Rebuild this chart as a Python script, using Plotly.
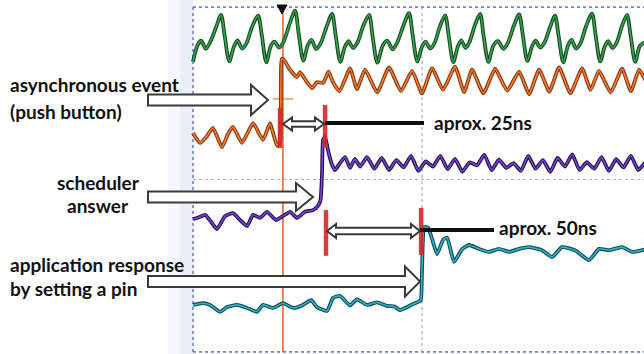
import plotly.graph_objects as go

# ---------------- data (time in ns, amplitude in divisions) ----------------
green_t = [0, 2.5, 4.5, 7, 9.5, 12.5,
           15.3, 17.3, 19.8, 22.3, 24.3, 26.8, 29.3, 32.3,
           35.5, 37.5, 40.0, 42.5, 44.5, 47.0, 49.5, 52.5,
           55.7, 57.7, 60.2, 62.7, 64.7, 67.2, 69.7, 72.7,
           75.9, 77.9, 80.4, 82.9, 84.9, 87.4, 89.9, 92.9,
           96.1, 98.1, 100.6, 103.5, 106.0, 109.0, 111.5, 114.6,
           117.9, 119.9, 122.4, 124.9, 126.9, 129.4, 131.9, 134.6,
           137.6, 139.6, 142.1, 144.6, 146.4, 148.8, 151.0, 153.8,
           156.7, 158.7, 161.2, 164.0, 166.5, 169.5, 172.0, 175.0,
           178.0, 180.0, 182.5, 185.0, 187.0, 189.5, 192.0, 194.8,
           197.6, 199.6, 202.1, 204.6, 206.6, 209.1, 211.6, 214.6,
           217.8, 219.8, 222.3, 224.8, 226.6, 229.0, 231.3, 234.0,
           236.9, 238.9, 241.4, 243.9, 246.5]
green_v = [2.73, 3.12, 3.22, 3.03, 3.20, 3.52,
           3.82, 3.33, 2.74, 3.08, 3.23, 3.04, 3.17, 3.55,
           3.80, 3.36, 2.72, 3.10, 3.20, 3.06, 3.20, 3.58,
           3.92, 3.38, 2.76, 3.12, 3.24, 3.03, 3.16, 3.52,
           3.84, 3.34, 2.73, 3.08, 3.21, 3.05, 3.19, 3.56,
           3.82, 3.30, 2.71, 3.10, 3.22, 3.02, 3.18, 3.54,
           3.86, 3.35, 2.74, 3.07, 3.20, 3.04, 3.17, 3.53,
           3.81, 3.33, 2.72, 3.09, 3.23, 3.05, 3.20, 3.57,
           3.84, 3.31, 2.73, 3.11, 3.21, 3.03, 3.18, 3.55,
           3.83, 3.36, 2.75, 3.08, 3.22, 3.06, 3.19, 3.52,
           3.80, 3.32, 2.72, 3.10, 3.24, 3.04, 3.17, 3.56,
           3.85, 3.34, 2.74, 3.09, 3.21, 3.05, 3.18, 3.54,
           3.82, 3.33, 2.73, 3.10, 3.18]

orange_t = [0, 3.8, 7.5, 10.9, 15.8, 19, 21.8, 26.7, 30, 32.8,
            38.2, 42.0, 45.9, 47.6, 48.4, 49.7, 53.0, 56.8, 58.4, 62.2,
            65.0, 67.7, 71.0, 74.0, 76.4, 80.0, 85.7, 89.5, 93.9, 100.5,
            107.0, 113.5, 119.6, 125.0, 130.5, 136.5, 143.0, 148.0, 152.3, 158.5,
            164.9, 171.5, 178.0, 183.5, 188.9, 194.5, 199.8, 206.0, 212.4, 217.0,
            221.6, 228.0, 234.2, 239.0, 243.5, 247]
orange_v = [1.08, 0.85, 1.00, 1.20, 0.75, 1.05, 1.22, 0.85, 1.10, 1.31,
            0.92, 1.30, 0.78, 0.90, 2.80, 2.77, 2.54, 2.38, 2.49, 2.26,
            2.12, 2.26, 2.24, 2.50, 2.26, 2.05, 2.58, 2.10, 2.55, 2.02,
            2.60, 2.05, 2.52, 2.00, 2.58, 2.08, 2.62, 2.03, 2.55, 2.00,
            2.57, 2.06, 2.50, 1.98, 2.55, 2.04, 2.60, 2.00, 2.58, 2.08,
            2.52, 2.02, 2.57, 2.05, 2.55, 2.30]

purple_t = [0, 3, 6.6, 10, 13.1, 17.5, 21.8, 25.7, 29.5, 32.8,
            36.6, 40.4, 45.3, 49.1, 53.0, 56.8, 61.1, 65.5, 68.2, 69.6,
            70.4, 71.0, 72.1, 73.7, 75.9, 77.5, 80.2, 83.0, 85.7, 88.4,
            91.2, 95, 99, 103, 107, 111, 115, 119, 123, 127,
            131, 135, 139, 143, 147, 151, 155, 159, 163, 167,
            171, 175, 179, 183, 187, 191, 195, 199, 203, 207,
            211, 215, 219, 223, 227, 231, 235, 239, 243, 247]
purple_v = [-0.92, -0.88, -0.82, -0.99, -1.15, -0.85, -0.78, -0.94, -1.08, -0.82,
            -0.89, -0.75, -0.94, -0.85, -0.75, -0.89, -0.75, -0.71, -0.61, -0.48,
            0.10, 0.92, 0.99, 0.68, 0.34, 0.22, 0.38, 0.52, 0.27, 0.48,
            0.30, 0.52, 0.25, 0.50, 0.22, 0.45, 0.28, 0.55, 0.20, 0.42,
            0.30, 0.55, 0.24, 0.48, 0.18, 0.40, 0.33, 0.57, 0.22, 0.46,
            0.27, 0.38, 0.20, 0.55, 0.25, 0.45, 0.18, 0.50, 0.30, 0.58,
            0.22, 0.40, 0.25, 0.52, 0.20, 0.47, 0.28, 0.55, 0.22, 0.40]

teal_t = [0, 5.5, 9.3, 14.7, 18.6, 24.0, 29.5, 34.9, 38.2, 43.7,
          49.1, 54.6, 60.0, 64.5, 67.7, 73.2, 76.4, 80.2, 85.7, 89.5,
          95.0, 100.4, 105.9, 110.0, 113.0, 116.8, 119.6, 122.3, 124.3, 124.9,
          125.4, 126.2, 128.3, 130.5, 133.2, 136.5, 138.7, 142.5, 146.8, 150.7,
          156.1, 161.6, 167.0, 172.5, 178.0, 183.4, 190.5, 196.0, 201.4, 208.5,
          216.2, 221.6, 227.1, 234.2, 239.7, 245.1, 247.0]
teal_v = [-2.91, -2.87, -2.91, -3.07, -2.96, -2.91, -2.98, -3.07, -2.91, -2.98,
          -2.87, -2.98, -2.91, -2.80, -2.96, -3.05, -2.75, -2.70, -2.92, -2.78,
          -2.91, -2.85, -2.93, -2.95, -3.03, -2.96, -2.90, -2.85, -2.80, -2.30,
          -1.50, -1.10, -1.12, -1.38, -1.73, -1.40, -1.35, -1.91, -1.62, -1.52,
          -1.61, -1.68, -1.61, -1.68, -1.61, -1.57, -1.64, -1.80, -1.57, -1.64,
          -1.87, -1.61, -1.64, -1.57, -1.68, -1.64, -1.62]

# cursor / marker positions (ns, div)
event_t = 49.1
markers = [  # (t, v_top, v_bottom)
    (47.5, 1.66, 0.73),
    (72.1, 1.73, 0.75),
    (72.6, -0.71, -1.77),
    (124.5, -0.66, -1.75),
]

labels = ["asynchronous event", "(push button)", "scheduler", "answer",
          "application response", "by setting a pin", "aprox. 25ns", "aprox. 50ns"]

# ---------------- geometry ----------------
W, H = 644, 354
X0_PX, PX_PER_NS = 193.0, 1.832
Y0_PX, PX_PER_DIV = 179.5, 43.1
XR = [(0 - X0_PX) / PX_PER_NS, (W - X0_PX) / PX_PER_NS]
YR = [(Y0_PX - H) / PX_PER_DIV, Y0_PX / PX_PER_DIV]


def fx(p):
    return p / W


def fy(p):
    return 1 - p / H


fig = go.Figure()


def add_channel(t, v, outer, inner, smooth):
    fig.add_trace(go.Scatter(x=t, y=v, mode="lines",
                             line=dict(color=outer, width=3.8, shape="spline", smoothing=smooth),
                             hoverinfo="skip", showlegend=False))
    fig.add_trace(go.Scatter(x=t, y=v, mode="lines",
                             line=dict(color=inner, width=1.6, shape="spline", smoothing=smooth),
                             hoverinfo="skip", showlegend=False))


shapes = []
# light blue strip left of the screen
shapes.append(dict(type="rect", xref="paper", yref="paper", x0=fx(168), x1=fx(180), y0=0, y1=1,
                   fillcolor="#f5f7fc", line=dict(width=0), layer="below"))
shapes.append(dict(type="rect", xref="paper", yref="paper", x0=fx(180), x1=fx(193), y0=0, y1=1,
                   fillcolor="#eaeef9", line=dict(width=0), layer="below"))
# graticule
bord = dict(color="#6f7fd0", width=1.6, dash="dot")
shapes.append(dict(type="line", x0=0, x1=0, y0=-4, y1=4, line=bord, layer="below"))
shapes.append(dict(type="line", x0=0, x1=260, y0=4, y1=4, line=bord, layer="below"))
shapes.append(dict(type="line", x0=0, x1=260, y0=-4, y1=-4, line=bord, layer="below"))
cen = dict(color="#a8adbc", width=1.2, dash="dot")
shapes.append(dict(type="line", x0=125, x1=125, y0=-4, y1=4, line=cen, layer="below"))
shapes.append(dict(type="line", x0=0, x1=260, y0=0, y1=0, line=cen, layer="below"))
# trigger cursor (orange vertical) and small horizontal cursor
shapes.append(dict(type="line", x0=event_t, x1=event_t, y0=-4, y1=4,
                   line=dict(color="#e06a2c", width=1.6), layer="below"))
shapes.append(dict(type="line", x0=event_t - 5.5, x1=event_t + 5.5, y0=1.87, y1=1.87,
                   line=dict(color="#e07a40", width=1.2), layer="below"))

fig.update_layout(shapes=shapes)

add_channel(teal_t, teal_v, "#0f4a55", "#2fb2c4", 0.45)
add_channel(purple_t, purple_v, "#25104f", "#7444cc", 0.45)
add_channel(orange_t, orange_v, "#8a3a12", "#f07a30", 0.45)
add_channel(green_t, green_v, "#1b4d25", "#34a24b", 0.8)

# red measurement markers
for (t, a, b) in markers:
    fig.add_shape(type="line", x0=t, x1=t, y0=a, y1=b,
                  line=dict(color="#d8262a", width=4.5), layer="above", opacity=0.9)

# trigger marker at top
fig.add_shape(type="path", xref="paper", yref="paper",
              path=f"M {fx(277)},{fy(5)} L {fx(287)},{fy(5)} L {fx(282)},{fy(14)} Z",
              fillcolor="#111", line=dict(color="#111", width=1), layer="above")


def arrow_path(x0, x1, yc, h, hh, L):
    xb = x1 - L
    pts = [(x0, yc - h), (xb, yc - h), (xb, yc - hh), (x1, yc),
           (xb, yc + hh), (xb, yc + h), (x0, yc + h)]
    return "M " + " L ".join(f"{fx(a):.5f},{fy(b):.5f}" for a, b in pts) + " Z"


def darrow_path(x0, x1, yc, h, hh, L):
    pts = [(x0, yc), (x0 + L, yc - hh), (x0 + L, yc - h), (x1 - L, yc - h), (x1 - L, yc - hh),
           (x1, yc), (x1 - L, yc + hh), (x1 - L, yc + h), (x0 + L, yc + h), (x0 + L, yc + hh)]
    return "M " + " L ".join(f"{fx(a):.5f},{fy(b):.5f}" for a, b in pts) + " Z"


aline = dict(color="#3a3a3a", width=2)
for p in [arrow_path(148, 268, 100, 5.5, 15, 17),
          arrow_path(148, 313, 197, 5.5, 14, 17),
          arrow_path(148, 420, 281.5, 5.5, 15, 15),
          darrow_path(283, 324, 124, 2.8, 6.5, 9),
          darrow_path(327, 420, 231, 3.2, 7, 9)]:
    fig.add_shape(type="path", xref="paper", yref="paper", path=p,
                  fillcolor="white", line=aline, layer="above")

# black leader lines
for (xa, xb_, yy) in [(325, 424, 123), (420, 494, 230)]:
    fig.add_shape(type="line", xref="paper", yref="paper", x0=fx(xa), x1=fx(xb_),
                  y0=fy(yy), y1=fy(yy), line=dict(color="#111", width=4), layer="above")

font = dict(family="Lato, 'Open Sans', sans-serif", size=19, color="#111", weight="bold")
text_pos = [  # (x px, y px, anchor)
    (8, 84, "left"), (8, 111, "left"), (98, 182, "center"), (98, 205, "center"),
    (8, 264, "left"), (8, 288, "left"), (432, 122, "left"), (497, 228, "left"),
]
for lab, (xp, yp, anc) in zip(labels, text_pos):
    fig.add_annotation(text=lab, xref="paper", yref="paper", x=fx(xp), y=fy(yp),
                       xanchor=anc, yanchor="middle", showarrow=False, font=font)

fig.update_layout(
    width=W, height=H, margin=dict(l=0, r=0, t=0, b=0),
    paper_bgcolor="white", plot_bgcolor="white",
    xaxis=dict(range=XR, visible=False, domain=[0, 1], fixedrange=True),
    yaxis=dict(range=YR, visible=False, domain=[0, 1], fixedrange=True),
)

fig.write_html("out.html", config={"displayModeBar": False},
               post_script="document.body.style.margin='0';document.body.style.padding='0';"
                           "document.body.style.overflow='hidden';")
